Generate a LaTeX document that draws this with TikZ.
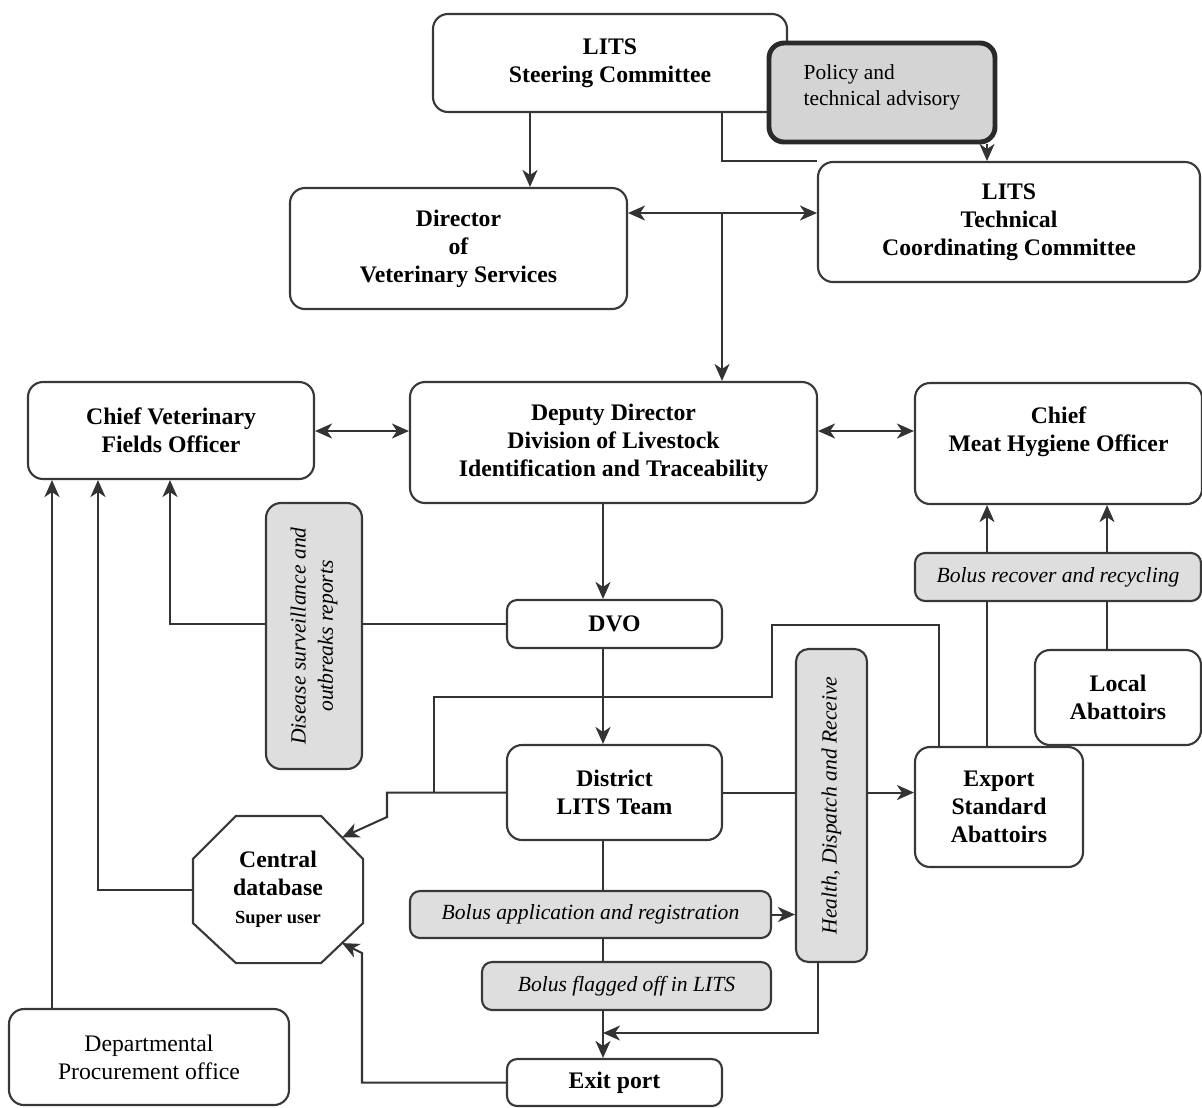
\documentclass[tikz,border=0pt]{standalone}
\usepackage{fontspec}
\setmainfont{Liberation Serif}
\usetikzlibrary{arrows.meta,calc,backgrounds}
\definecolor{linec}{HTML}{333333}
\definecolor{boxc}{HTML}{383838}
\definecolor{notec}{HTML}{DEDEDE}
\definecolor{polc}{HTML}{2A2A2A}
\definecolor{polfill}{HTML}{D4D4D4}
\begin{document}
\begin{tikzpicture}[x=0.02cm,y=-0.02cm,
  >={Stealth[length=0.34cm,width=0.3cm,inset=0.1cm]},
  ln/.style={draw=linec,line width=1.15pt},
  arr/.style={ln,->},
  darr/.style={ln,<->},
  sz/.style 2 args={minimum width=#1*0.02cm,minimum height=#2*0.02cm},
  box/.style={draw=boxc,line width=1.2pt,rounded corners=0.3cm,fill=white,
    inner sep=0pt,align=center,font=\bfseries\fontsize{13.5}{16}\selectfont},
  note/.style={box,fill=notec,rounded corners=0.2cm,
    font=\itshape\fontsize{12.3}{15.5}\selectfont},
  policy/.style={draw=polc,line width=2.8pt,rounded corners=0.3cm,fill=polfill,
    inner sep=0pt,align=left,font=\fontsize{12.2}{14.8}\selectfont}]
\useasboundingbox (0,0) rectangle (1202,1107);

% boxes
\node[box,sz={354}{98}] (steer) at (610,63) {LITS\\Steering Committee};
\node[policy,sz={226}{99}] (pol) at (882,92.5) {Policy and\\technical advisory\\[-6pt]\mbox{}};
\node[box,sz={337}{121}] (dvs) at (458.5,248.5) {Director\\of\\Veterinary Services};
\node[box,sz={382}{120}] (tech) at (1009,222) {LITS\\Technical\\Coordinating Committee};
\node[box,sz={286}{97}] (cvfo) at (171,430.5) {Chief Veterinary\\Fields Officer};
\node[box,sz={407}{121}] (dep) at (613.5,442.5) {Deputy Director\\Division of Livestock\\Identification and Traceability};
\node[box,sz={287}{121}] (cmho) at (1058.5,443.5) {Chief\\Meat Hygiene Officer\\\mbox{}};
\node[note,rotate=90,rounded corners=0.3cm,sz={266}{96}] (dis) at (314,636) {Disease surveillance and\\outbreaks reports};
\node[box,rounded corners=0.2cm,sz={215}{48}] (dvo) at (614.5,624) {DVO};
\node[note,sz={286}{48}] (brr) at (1058,577) {Bolus recover and recycling};
\node[box,sz={166}{95}] (local) at (1118,697.5) {Local\\Abattoirs};
\node[note,rotate=90,rounded corners=0.25cm,sz={313}{71}] (hdr) at (831.5,805.5) {Health, Dispatch and Receive};
\node[box,sz={215}{95}] (dist) at (614.5,792.5) {District\\LITS Team};
\node[box,sz={168}{120}] (exp) at (999,807) {Export\\Standard\\Abattoirs};
\node[box,draw=none,fill=none,sz={168}{145}] (cdb) at (278,889.5) {Central\\database\\{\fontsize{10.5}{13}\selectfont Super user}};
\node[note,sz={361}{47}] (bapp) at (590.5,914.5) {Bolus application and registration};
\node[note,sz={289}{48}] (bflag) at (626.5,986) {Bolus flagged off in LITS};
\node[box,rounded corners=0.2cm,sz={215}{47}] (exit) at (614.5,1082.5) {Exit port};
\node[box,sz={280}{96},font=\fontsize{13.5}{16}\selectfont] (dpo) at (149,1057) {Departmental\\Procurement office};

% octagon round the central database
\draw[draw=boxc,line width=1.2pt]
  ($(cdb.north west)+(43,0)$) -- ($(cdb.north east)+(-42,0)$)
  -- ($(cdb.north east)+(0,43)$) -- ($(cdb.south east)+(0,-40)$)
  -- ($(cdb.south east)+(-42,0)$) -- ($(cdb.south west)+(43,0)$)
  -- ($(cdb.south west)+(0,-40)$) -- ($(cdb.north west)+(0,43)$) -- cycle;
\coordinate (cdbNE) at ($(cdb.north east)+(-21,21.5)$);
\coordinate (cdbSE) at ($(cdb.south east)+(-21,-20)$);

% columns and rows used by the connectors
\coordinate (kA) at (530,0);
\coordinate (kB) at (722,0);
\coordinate (kC) at (987,0);
\coordinate (kD) at (1107,0);
\coordinate (kE) at (603,0);
\coordinate (kF) at (170,0);
\coordinate (kG) at (98,0);
\coordinate (kH) at (52,0);
\coordinate (kI) at (434,0);
\coordinate (kJ) at (772,0);
\coordinate (kK) at (939,0);
\coordinate (kL) at (387,0);
\coordinate (kM) at (362,0);
\coordinate (kN) at (818,0);
\coordinate (rA) at (0,213);
\coordinate (rB) at (0,431);
\coordinate (rC) at (0,625);
\coordinate (rD) at (0,697);
\coordinate (rE) at (0,817);
\coordinate (rF) at (0,953);
\coordinate (rG) at (0,1033);

\begin{pgfonlayer}{background}
% top levels
\draw[arr] (steer.south -| kA) -- (dvs.north -| kA);
\draw[ln] (steer.south -| kB) |- (tech.north west);
\draw[arr] (pol.south -| kC) -- (tech.north -| kC);
\draw[darr] (dvs.east |- rA) -- (tech.west |- rA);
\draw[arr] (kB |- rA) -- (dep.north -| kB);
\draw[darr] (cvfo.east |- rB) -- (dep.west |- rB);
\draw[darr] (dep.east |- rB) -- (cmho.west |- rB);
% district chain
\draw[arr] (dep.south -| kE) -- (dvo.north -| kE);
\draw[arr] (dvo.west) -| (cvfo.south -| kF);
\draw[arr] (dvo.south -| kE) -- (dist.north -| kE);
\draw[ln] (dist.south -| kE) -- (bflag.north -| kE);
\draw[arr] (bflag.south -| kE) -- (exit.north -| kE);
\draw[arr] (bapp.east) -- (bapp.east -| hdr.north);
\draw[arr] (hdr.west -| kN) |- (rG -| kE);
\draw[arr] (dist.east) -- (dist.east -| exp.west);
% central database links
\draw[arr] (dist.west) -| (rE -| kL) -- (cdbNE);
\draw[ln] (exp.north -| kK) |- (rC -| kJ) |- (rD -| kI) -- (dist.west -| kI);
\draw[arr] (exit.west) -| (rF -| kM) -- (cdbSE);
\draw[arr] (cdb.west) -| (cvfo.south -| kG);
\draw[arr] (dpo.north -| kH) -- (cvfo.south -| kH);
% abattoirs
\draw[ln] (exp.north -| kC) -- (brr.south -| kC);
\draw[ln] (local.north -| kD) -- (brr.south -| kD);
\draw[arr] (brr.north -| kC) -- (cmho.south -| kC);
\draw[arr] (brr.north -| kD) -- (cmho.south -| kD);
\end{pgfonlayer}
\end{tikzpicture}
\end{document}
